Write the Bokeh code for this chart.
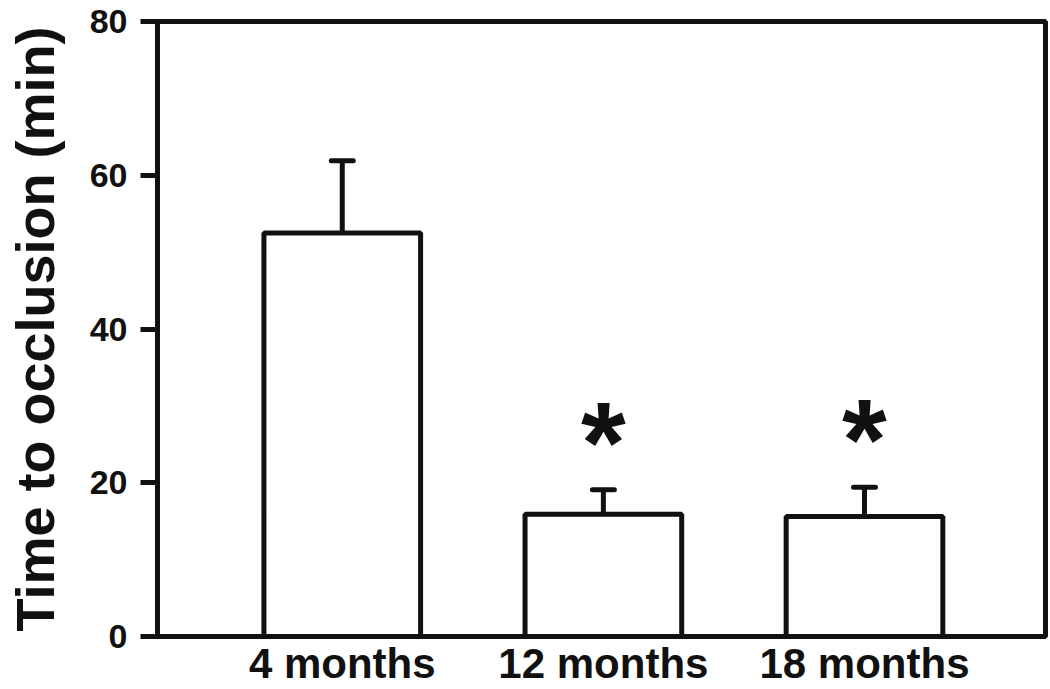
from bokeh.plotting import figure
from bokeh.models import ColumnDataSource, Whisker, TeeHead, FixedTicker, Range1d
from bokeh.core.properties import value
from bokeh.embed import file_html
from bokeh.resources import INLINE

# ---- data ----
categories = ["4 months", "12 months", "18 months"]
mean_minutes = [52.5, 15.9, 15.6]
upper_minutes = [61.9, 19.1, 19.4]
significance = ["", "*", "*"]
y_ticks = [0, 20, 40, 60, 80]

positions = list(range(1, len(categories) + 1))
src = ColumnDataSource(dict(x=positions, top=mean_minutes, upper=upper_minutes,
                            star=significance))

FONT = "Liberation Sans"
INK = "#111111"

p = figure(width=1050, height=689,
           x_range=Range1d(0.2924, 3.6932), y_range=Range1d(0, 80),
           output_backend="svg", toolbar_location=None,
           min_border_left=157, min_border_right=5,
           min_border_top=21, min_border_bottom=52)

p.background_fill_color = "white"
p.border_fill_color = "white"
p.outline_line_color = INK
p.outline_line_width = 5
p.xgrid.visible = False
p.ygrid.visible = False

# y axis
ya = p.yaxis[0]
ya.ticker = FixedTicker(ticks=y_ticks)
ya.axis_line_width = 5
ya.axis_line_color = INK
ya.major_tick_line_width = 5
ya.major_tick_line_color = INK
ya.major_tick_out = 17
ya.major_tick_in = 0
ya.minor_tick_line_color = None
ya.major_label_text_font = FONT
ya.major_label_text_font_style = "bold"
ya.major_label_text_font_size = "34px"
ya.major_label_text_color = INK
ya.major_label_standoff = 13
ya.axis_label = "Time to occlusion (min)"
ya.axis_label_text_font = FONT
ya.axis_label_text_font_style = "bold"
ya.axis_label_text_font_size = "54px"
ya.axis_label_text_color = INK
ya.axis_label_standoff = 22

# x axis
xa = p.xaxis[0]
xa.ticker = FixedTicker(ticks=positions)
xa.major_label_overrides = {pos: cat for pos, cat in zip(positions, categories)}
xa.axis_line_width = 5
xa.axis_line_color = INK
xa.major_tick_line_color = None
xa.major_tick_out = 0
xa.major_tick_in = 0
xa.minor_tick_line_color = None
xa.major_label_text_font = FONT
xa.major_label_text_font_style = "bold"
xa.major_label_text_font_size = "42px"
xa.major_label_text_color = INK
xa.major_label_standoff = 3

# bars
p.vbar(x="x", width=0.6, top="top", bottom=0, source=src,
       fill_color="white", line_color=INK, line_width=5)

# error bars (upper only)
w = Whisker(source=src, base="x", lower="top", upper="upper",
            line_color=INK, line_width=5,
            upper_head=TeeHead(size=22, line_width=5, line_color=INK, line_cap="round"),
            lower_head=None)
p.add_layout(w)

# significance markers
p.text(x="x", y="upper", text="star", source=src,
       text_font=value(FONT), text_font_style="bold", text_font_size="115px",
       text_align="center", text_baseline="alphabetic", y_offset=-48,
       text_color=INK)

open("out.html", "w").write(file_html(p, INLINE))
